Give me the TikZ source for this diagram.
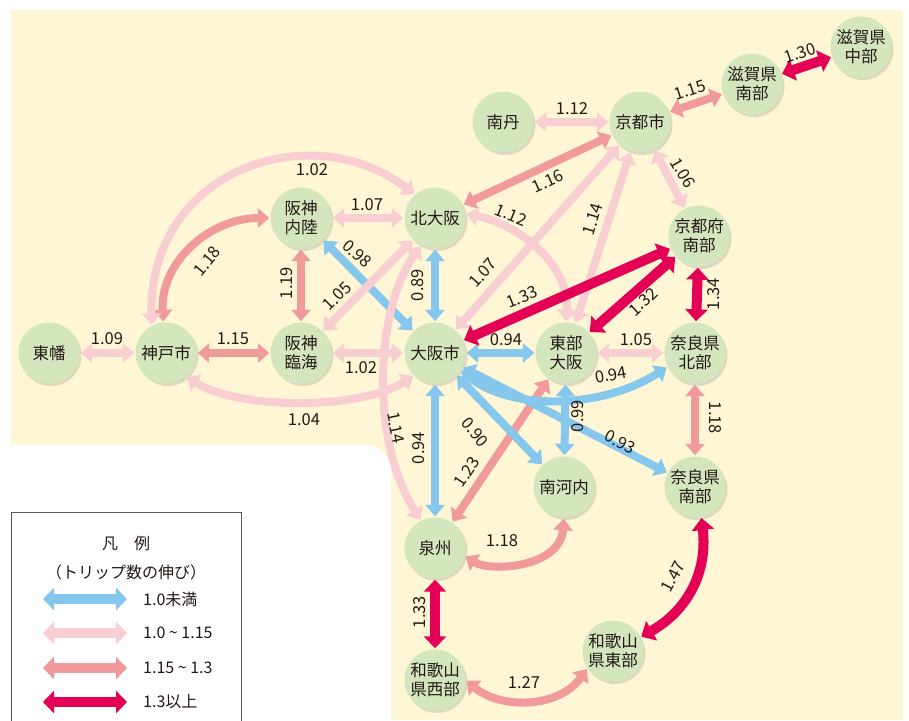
\documentclass[tikz,border=0pt]{standalone}
\usepackage{fontspec}
\setmainfont{Noto Sans CJK JP}
\usetikzlibrary{arrows.meta,shadows}
\definecolor{cream}{RGB}{255,246,213}
\definecolor{cgreen}{RGB}{212,230,190}
\definecolor{cblue}{RGB}{134,199,237}
\definecolor{cpink}{RGB}{248,206,211}
\definecolor{csalmon}{RGB}{241,154,156}
\definecolor{cmag}{RGB}{228,0,84}
\definecolor{ctext}{RGB}{35,24,21}
\begin{document}
\begin{tikzpicture}[x=1pt,y=-1pt,
  st/.style={circle, fill=cgreen, minimum size=61pt, inner sep=0pt, align=center,
    text=ctext, font=\fontsize{16.5}{19}\selectfont,
    drop shadow={shadow xshift=2pt, shadow yshift=-2.5pt, opacity=0.25}},
  ar/.style={<->, >={Triangle[length=11.5pt,width=19pt]}, shorten <=1pt, shorten >=1pt, line width=8pt},
  bl/.style={ar, draw=cblue},
  pk/.style={ar, draw=cpink},
  sm/.style={ar, draw=csalmon},
  mg/.style={ar, draw=cmag, line width=10pt, >={Triangle[length=12pt,width=22pt]}},
  lb/.style={font=\fontsize{16.5}{16.5}\selectfont, inner sep=0pt, text=ctext},
  lg/.style={<->, >={Triangle[length=11pt,width=22pt]}, line width=10pt},
  lt/.style={font=\fontsize{16}{16}\selectfont, inner sep=0pt, text=ctext}]
\useasboundingbox (0,0) rectangle (909,720);
\fill[cream] (11,10) rectangle (903,720);
\fill[white, rounded corners=26pt] (-60,445) rectangle (391,790);

% nodes
\node[st] (tobata) at (49,353) {東幡};
\node[st] (kobe) at (166,353) {神戸市};
\node[st] (rinkai) at (301,353) {阪神\\臨海};
\node[st] (osaka) at (435,353) {大阪市};
\node[st] (tobu) at (566,353) {東部\\大阪};
\node[st] (narakita) at (695,353) {奈良県\\北部};
\node[st] (nairiku) at (301,218) {阪神\\内陸};
\node[st] (kitaosaka) at (435,218) {北大阪};
\node[st] (nantan) at (503,122) {南丹};
\node[st] (kyoto) at (640,122) {京都市};
\node[st] (shigaminami) at (752,84) {滋賀県\\南部};
\node[st] (shigachubu) at (861,47) {滋賀県\\中部};
\node[st] (kyotominami) at (699,236) {京都府\\南部};
\node[st] (minamikawachi) at (564,487) {南河内};
\node[st] (naraminami) at (695,487) {奈良県\\南部};
\node[st] (senshu) at (435,548) {泉州};
\node[st] (wakanishi) at (435,680) {和歌山\\県西部};
\node[st] (wakahigashi) at (613,651) {和歌山\\県東部};

% salmon
\draw[sm] (kobe.95) .. controls (160,262) and (210,218) .. (nairiku.180);
\draw[sm] (kobe) -- (rinkai);
\draw[sm] (nairiku) -- (rinkai);
\draw[sm] (kyoto) -- (kitaosaka);
\draw[sm] (kyoto) -- (shigaminami);
\draw[sm] (narakita) -- (naraminami);
\draw[sm] (senshu) -- (tobu);
\draw[sm] (senshu.-15) .. controls (490,572) and (560,568) .. (minamikawachi.south);
\draw[sm] (wakanishi.east) .. controls (500,709) and (558,709) .. (wakahigashi.214);

% blue
\draw[bl] (nairiku) -- (osaka);
\draw[bl] (kitaosaka) -- (osaka);
\draw[bl] (osaka) -- (tobu);
\draw[bl] (osaka.-34) .. controls (510,410) and (600,410) .. (narakita.207);
\draw[bl] (tobu) -- (minamikawachi);
\draw[bl] (osaka) -- (minamikawachi);
\draw[bl] (osaka) -- (naraminami);
\draw[bl] (osaka) -- (senshu);

% light pink
\draw[pk] (tobata) -- (kobe);
\draw[pk] (rinkai) -- (osaka);
\draw[pk] (kobe.-50) .. controls (240,410) and (360,410) .. (osaka.227);
\draw[pk] (kobe.118) .. controls (149,170) and (310,115) .. (kitaosaka.130);
\draw[pk] (nairiku) -- (kitaosaka);
\draw[pk] (kitaosaka) -- (rinkai);
\draw[pk] (kitaosaka.243) .. controls (375,310) and (370,440) .. (senshu.117);
\draw[pk] (kitaosaka.8) .. controls (520,225) and (570,265) .. (tobu.north);
\draw[pk] (nantan) -- (kyoto);
\draw[pk] (kyoto) -- (kyotominami);
\draw[pk] (kyoto) -- (osaka);
\draw[pk] (kyoto) -- (tobu);
\draw[pk] (tobu) -- (narakita);

% magenta
\draw[mg] (shigaminami) -- (shigachubu);
\draw[mg] (kyotominami) -- (osaka);
\draw[mg] (kyotominami) -- (tobu);
\draw[mg] (kyotominami) -- (narakita);
\draw[mg] (senshu) -- (wakanishi);
\draw[mg] (naraminami.-78) .. controls (708,575) and (685,612) .. (wakahigashi.27);

% labels
\node[lb] (t1) at (107,339) {1.09};
\node[lb] (t2) at (233,339) {1.15};
\node[lb] (t3) at (361,368) {1.02};
\node[lb] (t4) at (304,420) {1.04};
\node[lb] (t5) at (312,170) {1.02};
\node[lb] (t6) at (367,205) {1.07};
\node[lb, rotate=50] (t7) at (207,261) {1.18};
\node[lb, rotate=90] (t8) at (287,283) {1.19};
\node[lb, rotate=-42] (t9) at (357,254) {0.98};
\node[lb, rotate=45] (t10) at (337,296) {1.05};
\node[lb, rotate=90] (t11) at (418,285) {0.89};
\node[lb, rotate=25] (t12) at (548,181) {1.16};
\node[lb, rotate=-22] (t13) at (511,215) {1.12};
\node[lb, rotate=48] (t14) at (483,273) {1.07};
\node[lb, rotate=73] (t15) at (593,219) {1.14};
\node[lb, rotate=22] (t16) at (522,297) {1.33};
\node[lb, rotate=42] (t17) at (643,302) {1.32};
\node[lb, rotate=90] (t18) at (714,294) {1.34};
\node[lb, rotate=-60] (t19) at (683,173) {1.06};
\node[lb] (t20) at (572,109) {1.12};
\node[lb, rotate=18] (t21) at (690,90) {1.15};
\node[lb, rotate=18] (t22) at (800,53) {1.30};
\node[lb] (t23) at (506,340) {0.94};
\node[lb] (t24) at (636,340) {1.05};
\node[lb, rotate=10] (t25) at (611,375) {0.94};
\node[lb, rotate=90] (t26) at (578,416) {0.99};
\node[lb, rotate=-90] (t27) at (715,418) {1.18};
\node[lb, rotate=-27] (t28) at (620,442) {0.93};
\node[lb, rotate=-50] (t29) at (475,432) {0.90};
\node[lb, rotate=-78] (t30) at (396,428) {1.14};
\node[lb, rotate=90] (t31) at (419,448) {0.94};
\node[lb, rotate=56] (t32) at (467,472) {1.23};
\node[lb] (t33) at (502,541) {1.18};
\node[lb, rotate=90] (t34) at (420,612) {1.33};
\node[lb] (t35) at (524,683) {1.27};
\node[lb, rotate=62] (t36) at (673,577) {1.47};

% legend
\draw[draw=black!65, line width=1pt] (11,730) |- (241,512) -- (241,730);
\node[lt] (lgt) at (126,543) {凡　例};
\node[lt] (lgs) at (126,572) {（トリップ数の伸び）};
\coordinate (a1) at (43,599); \coordinate (b1) at (127,599);
\coordinate (a2) at (43,633); \coordinate (b2) at (127,633);
\coordinate (a3) at (43,668); \coordinate (b3) at (127,668);
\coordinate (a4) at (43,702); \coordinate (b4) at (127,702);
\draw[lg, draw=cblue] (a1) -- (b1);
\draw[lg, draw=cpink] (a2) -- (b2);
\draw[lg, draw=csalmon] (a3) -- (b3);
\draw[lg, draw=cmag] (a4) -- (b4);
\node[lt, anchor=west] (g1) at (143,599) {1.0未満};
\node[lt, anchor=west] (g2) at (143,633) {1.0 \string~ 1.15};
\node[lt, anchor=west] (g3) at (143,668) {1.15 \string~ 1.3};
\node[lt, anchor=west] (g4) at (143,702) {1.3以上};
\end{tikzpicture}
\end{document}
